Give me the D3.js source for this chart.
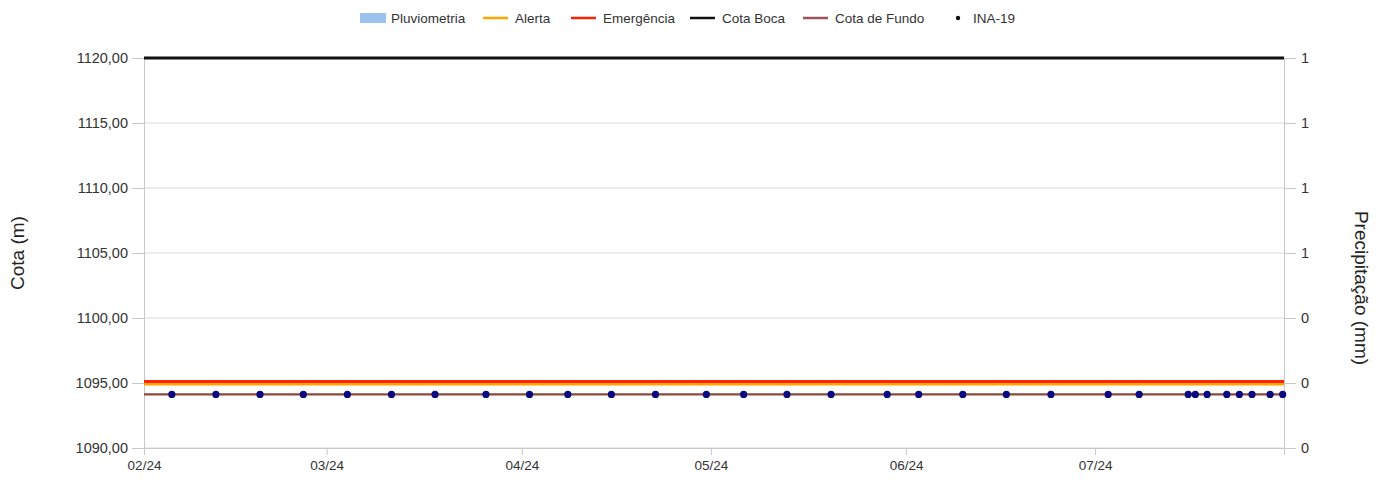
<!DOCTYPE html>
<html>
<head>
<meta charset="utf-8">
<script src="https://cdn.jsdelivr.net/npm/d3@7"></script>
<style>
  html, body { margin: 0; padding: 0; background: #fff; }
  svg { display: block; font-family: "Liberation Sans", Arial, sans-serif; }
</style>
</head>
<body>
<svg id="chart" width="1389" height="497"></svg>
<script>
// ---- data ----
const inaDates = [
  "2024-02-05 10","2024-02-12 10","2024-02-19 10","2024-02-26 07","2024-03-04 07",
  "2024-03-11 07","2024-03-18 05","2024-03-26 07","2024-04-02 05","2024-04-08 07",
  "2024-04-15 05","2024-04-22 05","2024-04-30 07","2024-05-06 05","2024-05-13 02",
  "2024-05-20 02","2024-05-29 00","2024-06-03 00","2024-06-10 00","2024-06-16 22",
  "2024-06-24 00","2024-07-03 02","2024-07-08 00","2024-07-15 19","2024-07-16 22",
  "2024-07-18 19","2024-07-21 22","2024-07-23 22","2024-07-25 22","2024-07-28 19",
  "2024-07-30 19"
];
const inaValues = [
  1094.12,1094.12,1094.12,1094.12,1094.12,1094.12,1094.12,1094.12,1094.12,1094.12,
  1094.12,1094.12,1094.12,1094.12,1094.12,1094.12,1094.12,1094.12,1094.12,1094.12,
  1094.12,1094.12,1094.12,1094.12,1094.12,1094.12,1094.12,1094.12,1094.12,1094.12,
  1094.12
];
const pluvioDates = [];
const pluvioValues = [];
const periodStart = "2024-02-01 00";
const periodEnd = "2024-07-31 00";
const alertaLevel = 1094.92;
const emergenciaLevel = 1095.12;
const cotaBocaLevel = 1120.0;
const cotaFundoLevel = 1094.12;
const leftTicks = [1090, 1095, 1100, 1105, 1110, 1115, 1120];
const monthTicks = ["2024-02-01 00","2024-03-01 00","2024-04-01 00","2024-05-01 00","2024-06-01 00","2024-07-01 00"];
const legendLabels = ["Pluviometria","Alerta","Emergência","Cota Boca","Cota de Fundo","INA-19"];

// ---- setup ----
const parse = d3.timeParse("%Y-%m-%d %H");
const svg = d3.select("#chart");
const m = { left: 144, right: 1284, top: 58, bottom: 448 };

const x = d3.scaleTime().domain([parse(periodStart), parse(periodEnd)]).range([m.left, m.right]);
const y = d3.scaleLinear().domain([1090, 1120]).range([m.bottom, m.top]);
const y2 = d3.scaleLinear().domain([0, 1]).range([m.bottom, m.top]);

const ptBR = d3.formatLocale({ decimal: ",", thousands: "", grouping: [3], currency: ["R$", ""] });
const fmtLeft = ptBR.format(".2f");

const gridColor = "#d9d9d9";
const axisColor = "#c8c8c8";
const textColor = "#333";
const ff = "Liberation Sans, Arial, sans-serif";

// grid lines
svg.append("g").selectAll("line").data(leftTicks).join("line")
  .attr("x1", m.left).attr("x2", m.right)
  .attr("y1", d => y(d)).attr("y2", d => y(d))
  .attr("stroke", gridColor).attr("stroke-width", 1);

// left axis
const gl = svg.append("g").attr("transform", `translate(${m.left},0)`)
  .call(d3.axisLeft(y).tickValues(leftTicks).tickFormat(fmtLeft).tickSize(12).tickPadding(4));
gl.select(".domain").attr("stroke", axisColor);
gl.selectAll(".tick line").attr("stroke", axisColor);
gl.selectAll(".tick text").attr("fill", textColor).style("font-size", "14.5px").style("font-family", ff);

// right axis
const rightTickVals = leftTicks.map(v => y2.invert(y(v)));
const gr = svg.append("g").attr("transform", `translate(${m.right},0)`)
  .call(d3.axisRight(y2).tickValues(rightTickVals).tickFormat(d => String(Math.round(d))).tickSize(12).tickPadding(5));
gr.select(".domain").attr("stroke", axisColor);
gr.selectAll(".tick line").attr("stroke", axisColor);
gr.selectAll(".tick text").attr("fill", textColor).style("font-size", "14.5px").style("font-family", ff);

// bottom axis
const gb = svg.append("g").attr("transform", `translate(0,${m.bottom})`)
  .call(d3.axisBottom(x).tickValues(monthTicks.map(parse)).tickFormat(d3.timeFormat("%m/%y")).tickSize(7).tickPadding(5));
gb.select(".domain").attr("stroke", axisColor);
gb.selectAll(".tick line").attr("stroke", axisColor);
gb.selectAll(".tick text").attr("fill", textColor).style("font-size", "13.5px").style("font-family", ff);

// axis titles
svg.append("text").attr("transform", `translate(24,${(m.top + m.bottom) / 2}) rotate(-90)`)
  .attr("text-anchor", "middle").attr("fill", "#222").style("font-size", "19px").text("Cota (m)");
svg.append("text").attr("transform", `translate(1355,${(m.top + m.bottom) / 2 + 35}) rotate(90)`)
  .attr("text-anchor", "middle").attr("fill", "#222").style("font-size", "19px").text("Precipitação (mm)");

// pluviometria bars (right axis)
const pluvio = pluvioDates.map((d, i) => ({ date: parse(d), v: pluvioValues[i] }));
svg.append("g").selectAll("rect").data(pluvio).join("rect")
  .attr("x", d => x(d.date) - 2).attr("width", 4)
  .attr("y", d => y2(d.v)).attr("height", d => y2(0) - y2(d.v))
  .attr("fill", "#9cc3f0");

// horizontal reference lines
const line = d3.line().x(d => x(d.date)).y(d => y(d.v));
const span = v => [{ date: parse(periodStart), v }, { date: parse(periodEnd), v }];
const refs = [
  { v: cotaFundoLevel, color: "#8a4a3a", w: 2.2 },
  { v: alertaLevel, color: "#ffa500", w: 3 },
  { v: emergenciaLevel, color: "#ff2200", w: 3 },
  { v: cotaBocaLevel, color: "#111111", w: 3 }
];
svg.append("g").selectAll("path").data(refs).join("path")
  .attr("d", d => line(span(d.v)))
  .attr("fill", "none").attr("stroke", d => d.color).attr("stroke-width", d => d.w);

// INA-19 points
const ina = inaDates.map((d, i) => ({ date: parse(d), v: inaValues[i] }));
svg.append("g").selectAll("circle").data(ina).join("circle")
  .attr("cx", d => x(d.date)).attr("cy", d => y(d.v)).attr("r", 3.6)
  .attr("fill", "#0a0a80");

// legend
const legendItems = [
  { label: legendLabels[0], type: "rect", color: "#9cc3f0", x: 360 },
  { label: legendLabels[1], type: "line", color: "#ffa500", x: 483 },
  { label: legendLabels[2], type: "line", color: "#ff2200", x: 571 },
  { label: legendLabels[3], type: "line", color: "#111111", x: 690 },
  { label: legendLabels[4], type: "line", color: "#a0525a", x: 803 },
  { label: legendLabels[5], type: "dot", color: "#111111", x: 950 }
];
const lg = svg.append("g");
legendItems.forEach(it => {
  const g = lg.append("g").attr("transform", `translate(${it.x},18)`);
  let tx;
  if (it.type === "rect") {
    g.append("rect").attr("x", 0).attr("y", -5).attr("width", 26).attr("height", 10).attr("fill", it.color);
    tx = 31;
  } else if (it.type === "line") {
    g.append("line").attr("x1", 0).attr("x2", 25).attr("y1", 0).attr("y2", 0)
      .attr("stroke", it.color).attr("stroke-width", 2.5);
    tx = 32;
  } else {
    g.append("circle").attr("cx", 8).attr("cy", 0).attr("r", 2.2).attr("fill", it.color);
    tx = 23;
  }
  g.append("text").attr("x", tx).attr("y", 4.5).attr("fill", "#333").style("font-size", "13.5px").text(it.label);
});
</script>
</body>
</html>
